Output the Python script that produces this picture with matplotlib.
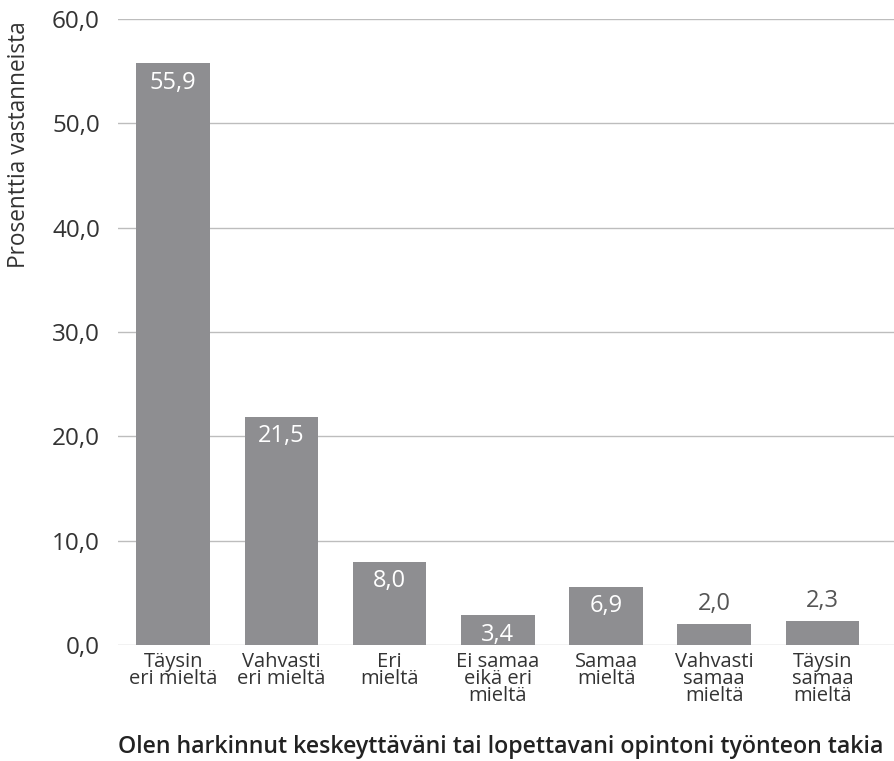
import matplotlib
matplotlib.use("Agg")
import matplotlib.pyplot as plt

plt.rcParams['font.family'] = ['Open Sans', 'DejaVu Sans']

categories = ['Täysin\neri mieltä', 'Vahvasti\neri mieltä', 'Eri\nmieltä',
              'Ei samaa\neikä eri\nmieltä', 'Samaa\nmieltä',
              'Vahvasti\nsamaa\nmieltä', 'Täysin\nsamaa\nmieltä']
# bar heights as drawn in the picture
heights = [55.8, 21.9, 8.0, 2.9, 5.6, 2.0, 2.3]
# value labels as printed on the picture
value_labels = ['55,9', '21,5', '8,0', '3,4', '6,9', '2,0', '2,3']
yticks = [0, 10, 20, 30, 40, 50, 60]

bar_color = '#8e8e91'
text_color = '#333333'

fig = plt.figure(figsize=(8.95, 7.61), dpi=100)
ax = fig.add_axes([118 / 895, (761 - 645) / 761, 1 - 118 / 895, (645 - 19) / 761])

x = range(len(categories))
bars = ax.bar(x, heights, width=0.68, color=bar_color, zorder=2)

for i, b in enumerate(bars):
    h = b.get_height()
    if h > 2.5:
        ax.text(b.get_x() + b.get_width() / 2, h - 0.75, value_labels[i],
                ha='center', va='top', color='white', fontsize=17)
    else:
        ax.text(b.get_x() + b.get_width() / 2, h + 0.8, value_labels[i],
                ha='center', va='bottom', color='#555555', fontsize=17)

ax.set_xlim(-0.51, 6.67)
ax.set_ylim(0, 60)
ax.set_yticks(yticks)
ax.set_yticklabels([('%.1f' % v).replace('.', ',') for v in yticks],
                   fontsize=17.5, color=text_color)
ax.set_xticks(list(x))
ax.set_xticklabels(categories, fontsize=14.5, color=text_color, linespacing=0.8)
ax.tick_params(axis='both', length=0)
ax.tick_params(axis='y', pad=13)
ax.tick_params(axis='x', pad=5)

ax.grid(axis='y', color='#bdbdbd', linewidth=1, zorder=0)
for s in ['top', 'right', 'left', 'bottom']:
    ax.spines[s].set_visible(False)

ax.set_ylabel('Prosenttia vastanneista', fontsize=16.3, color=text_color)
ax.yaxis.set_label_coords((31 - 118) / 777, (645 - 145) / 626)

fig.text(118 / 895, 1 - 753 / 761,
         'Olen harkinnut keskeyttäväni tai lopettavani opintoni työnteon takia',
         fontsize=16.7, fontweight='semibold', color='#222222', ha='left', va='baseline')

fig.savefig('out.png', dpi=100)
